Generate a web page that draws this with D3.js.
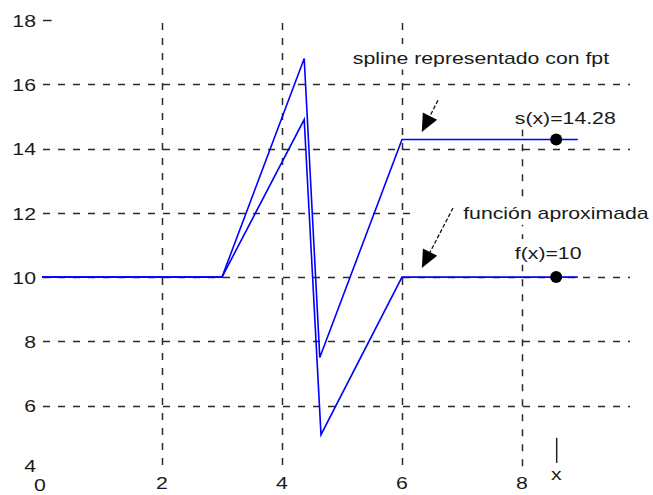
<!DOCTYPE html>
<html>
<head>
<meta charset="utf-8">
<script src="https://cdn.jsdelivr.net/npm/d3@7"></script>
<style>
  html, body { margin: 0; padding: 0; background: #fff; }
  svg { display: block; }
  text { font-family: "Liberation Sans", Arial, sans-serif; fill: #1a1a1a; }
</style>
</head>
<body>
<svg id="chart" width="653" height="495"></svg>
<script>
// Function and its spline approximation (piecewise linear samples)
const fX = [0, 3, 4.37, 4.65, 6, 8.93];
const fY = [10, 10, 14.9, 5.1, 10, 10];
const sX = [0, 3, 4.37, 4.63, 6, 8.93];
const sY = [10, 10, 16.8, 7.5, 14.28, 14.28];

// Evaluation markers
const markX = [8.57, 8.57];
const markY = [14.28, 10];

// Tick labels
const xTicks = [0, 2, 4, 6, 8];
const yTicks = [4, 6, 8, 10, 12, 14, 16, 18];

// Grid lines: position and how far each one runs
const vGridX = [2, 4, 6, 8];
const vGridTop = [17.9, 17.9, 17.9, 14.6];
const hGridY = [16, 14, 12, 10, 8, 6];
const hGridEnd = [9.8, 9.8, 6.15, 9.8, 9.8, 9.8];

// Annotations
const labelText = ["spline representado con fpt", "s(x)=14.28", "función aproximada", "f(x)=10"];
const labelX = [5.18, 7.88, 7.02, 7.88];
const labelY = [16.63, 14.76, 11.8, 10.56];
const arrowFrom = [[6.6, 15.5], [6.85, 12.15]];
const arrowTo = [[6.33, 14.51], [6.33, 10.28]];

const W = 653, H = 495;
const STRETCH = 1.25;
const FS = 17;

const x = d3.scaleLinear().domain([0, 10]).range([42, 642]);
const y = d3.scaleLinear().domain([4, 18]).range([470, 19.9]);

const svg = d3.select("#chart");
svg.append("rect").attr("width", W).attr("height", H).attr("fill", "#fff");

// horizontally widened text
function label(parent, tx, ty, str, anchor) {
  const g = parent.append("g").attr("transform", `translate(${tx},${ty})`);
  const t = g.append("text")
    .attr("transform", `scale(${STRETCH},1)`)
    .attr("font-size", FS)
    .attr("text-anchor", anchor || "start")
    .text(str);
  return { g, t };
}

// grid
const grid = svg.append("g").attr("stroke", "#2a2a2a").attr("stroke-width", 1.5)
  .attr("fill", "none");
hGridY.forEach((v, i) => {
  grid.append("line")
    .attr("x1", x(0) + 1).attr("x2", x(hGridEnd[i]))
    .attr("y1", Math.round(y(v)) + 0.5).attr("y2", Math.round(y(v)) + 0.5)
    .attr("stroke-dasharray", "7,8");
});
vGridX.forEach((v, i) => {
  grid.append("line")
    .attr("x1", Math.round(x(v)) + 0.5).attr("x2", Math.round(x(v)) + 0.5)
    .attr("y1", y(vGridTop[i])).attr("y2", y(4))
    .attr("stroke-dasharray", "7,8");
});
// short tick at the top value
grid.append("line")
  .attr("x1", x(0) + 1).attr("x2", x(0.16))
  .attr("y1", Math.round(y(18)) + 0.5).attr("y2", Math.round(y(18)) + 0.5);

// annotation labels with white backing
const ann = svg.append("g");
const annItems = labelText.map((s, i) => label(ann, x(labelX[i]), y(labelY[i]), s, "start"));
annItems.forEach(({ g, t }) => {
  const b = t.node().getBBox();
  g.insert("rect", "text")
    .attr("x", b.x * STRETCH - 4).attr("y", b.y - 5)
    .attr("width", b.width * STRETCH + 8).attr("height", b.height + 7)
    .attr("fill", "#fff");
});

// series
const line = d3.line().x(d => x(d[0])).y(d => y(d[1]));
const series = [d3.zip(fX, fY), d3.zip(sX, sY)];
svg.append("g").selectAll("path").data(series).join("path")
  .attr("d", line)
  .attr("fill", "none")
  .attr("stroke", "#0000ff")
  .attr("stroke-width", 1.6)
  .attr("stroke-linejoin", "miter");

// markers
svg.append("g").selectAll("circle").data(d3.zip(markX, markY)).join("circle")
  .attr("cx", d => x(d[0])).attr("cy", d => y(d[1]))
  .attr("r", 6).attr("fill", "#000");

// arrows
const arr = svg.append("g");
arrowFrom.forEach((p, i) => {
  const x1 = x(p[0]), y1 = y(p[1]);
  const x2 = x(arrowTo[i][0]), y2 = y(arrowTo[i][1]);
  const dx = x2 - x1, dy = y2 - y1, L = Math.hypot(dx, dy);
  const ux = dx / L, uy = dy / L;
  const hl = 18, hw = 8;
  const bx = x2 - ux * hl, by = y2 - uy * hl;
  arr.append("line")
    .attr("x1", x1).attr("y1", y1).attr("x2", bx).attr("y2", by)
    .attr("stroke", "#111").attr("stroke-width", 1.3)
    .attr("stroke-dasharray", "4,2");
  arr.append("path")
    .attr("d", `M${x2},${y2}L${bx - uy * hw},${by + ux * hw}L${bx + uy * hw},${by - ux * hw}Z`)
    .attr("fill", "#000");
});

// axis tick labels
const ax = svg.append("g");
yTicks.forEach(v => {
  label(ax, 36, y(v) + (v === 4 ? -4 : 1), String(v), "end").t
    .attr("dominant-baseline", "central");
});
xTicks.forEach(v => {
  label(ax, x(v) - (v === 0 ? 2 : 0), v === 0 ? 491 : 489, String(v), "middle");
});

// x axis marker
ax.append("line")
  .attr("x1", x(markX[0]) + 0.5).attr("x2", x(markX[0]) + 0.5)
  .attr("y1", y(5.0)).attr("y2", y(4.22))
  .attr("stroke", "#222").attr("stroke-width", 1.5);
label(ax, x(markX[0]), 480, "x", "middle");
</script>
</body>
</html>
